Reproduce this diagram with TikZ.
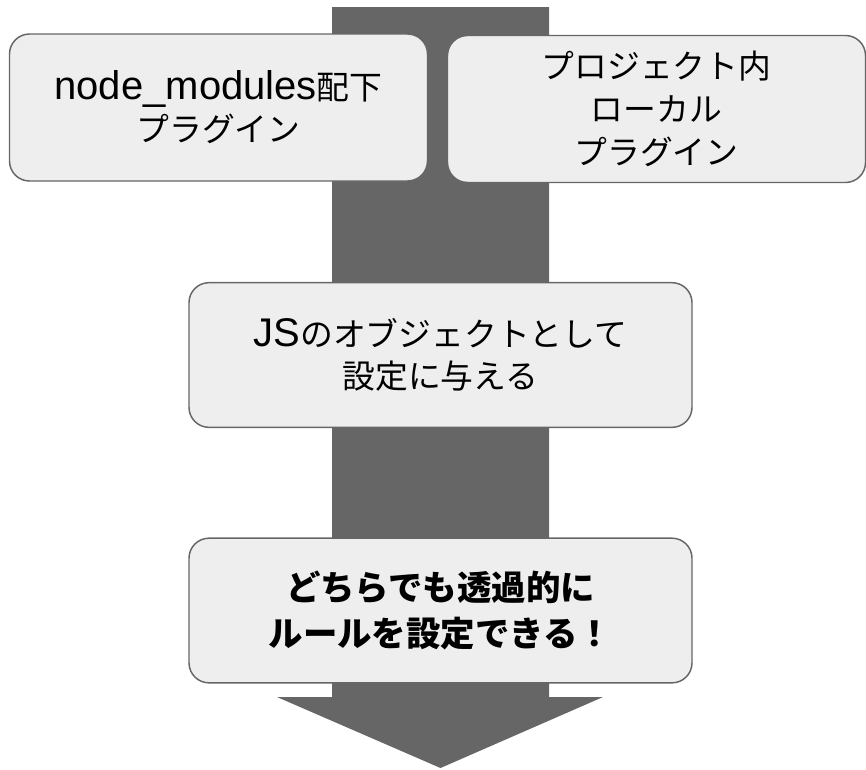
\documentclass[tikz,border=0pt]{standalone}
\usepackage{fontspec}
\setmainfont{Liberation Sans}
\newfontfamily\jpfont{Noto Sans CJK JP}[Scale=0.82]
\usepackage{tikz}
\definecolor{boxfill}{HTML}{EEEEEE}
\definecolor{arrowgray}{HTML}{666666}

\begin{document}
\begin{tikzpicture}[x=0.75pt,y=-0.75pt,
  box/.style={draw=arrowgray,fill=boxfill,line width=1.1pt,rounded corners=15pt,
    align=center,inner sep=0pt,font=\fontsize{30}{31.5}\selectfont},
  topbox/.style={box,minimum width=313.5pt,minimum height=110.25pt},
  midbox/.style={box,minimum width=377.25pt,minimum height=108.5pt}]
\useasboundingbox (0,0) rectangle (866,769);
% big arrow behind everything
\fill[arrowgray] (332,7) -- (549,7) -- (549,697) -- (603,697) -- (440.5,768)
  -- (277,697) -- (332,697) -- cycle;
\node[topbox] (nm) at (218.5,107.5) {node\_modules{\jpfont 配下}\\{\jpfont プラグイン}};
\node[topbox,font=\fontsize{30}{32.5}\selectfont\jpfont] (local) at (656.5,109)
  {プロジェクト内\\ローカル\\プラグイン};
\node[midbox] (js) at (440.5,355) {JS{\jpfont のオブジェクトとして}\\{\jpfont 設定に与える}};
\node[midbox,font=\fontsize{31.5}{35}\selectfont\jpfont\bfseries] (any) at (440.5,610.5)
  {どちらでも透過的に\\ルールを設定できる！};
\end{tikzpicture}
\end{document}
